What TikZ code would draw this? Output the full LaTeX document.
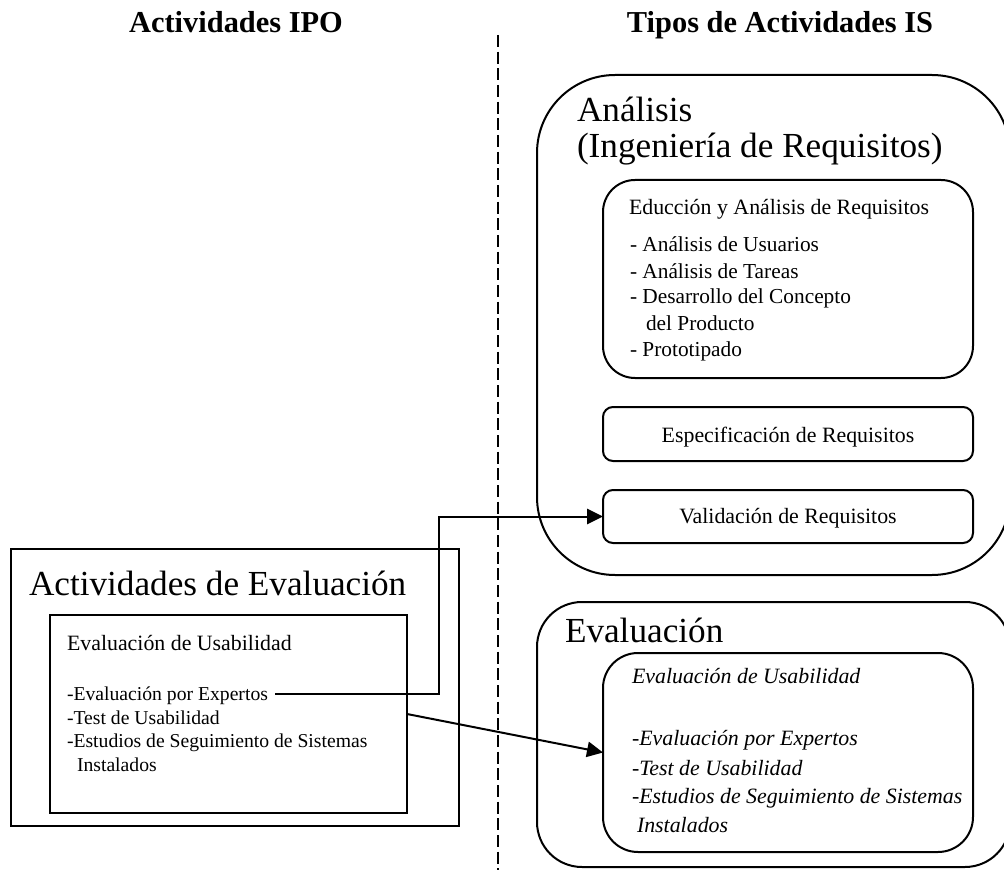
\documentclass[tikz,border=0pt]{standalone}
\usepackage{fontspec}
\setmainfont{Liberation Serif}
\usetikzlibrary{arrows.meta}
\newcommand\setfs[2]{\fontsize{#1}{#2}\selectfont}
\begin{document}
\begin{tikzpicture}[x=0.75pt,y=-0.75pt,
  sqbox/.style={draw, line width=1.5pt, inner sep=0pt, outer sep=0pt},
  rbox/.style={draw, line width=1.5pt, inner sep=0pt, outer sep=0pt, rounded corners=#1},
  lbl/.style={anchor=base west, inner sep=0pt, outer sep=0pt},
  ctr/.style={anchor=base, inner sep=0pt, outer sep=0pt},
  bigfont/.style={font=\setfs{26.4pt}{32pt}},
  midfont/.style={font=\setfs{16.4pt}{20pt}},
  lstfont/.style={font=\setfs{16pt}{20pt}},
  smlfont/.style={font=\setfs{14.75pt}{18pt}},
  itfont/.style={font=\setfs{16.4pt}{20pt}\itshape},
  arr/.style={line width=1.5pt, -{Triangle[length=12pt,width=11.5pt]}},
  divider/.style={line width=1.1pt, dash pattern=on 9pt off 3.5pt}
]
\useasboundingbox (0,0) rectangle (1004,870);

% titles
\node[ctr, font=\setfs{22.8pt}{27pt}\bfseries] (t1) at (236,33) {Actividades IPO};
\node[ctr, font=\setfs{22.8pt}{27pt}\bfseries] (t2) at (780,33) {Tipos de Actividades IS};

% divider
\coordinate (dtop) at (498,35);
\coordinate (dbot) at (498,872);
\draw[divider] (dtop) -- (dbot);

% Analisis block
\node[rbox=58.5pt, minimum width=354.75pt, minimum height=375pt] (anal) at (773.5,325) {};
\node[lbl, bigfont] (analt1) at (577,122) {Análisis};
\node[lbl, bigfont] (analt2) at (577,158) {(Ingeniería de Requisitos)};

\node[rbox=24pt, minimum width=277.5pt, minimum height=148.5pt] (educ) at (788,279) {};
\node[lbl, midfont] (educt) at (629,215) {Educción y Análisis de Requisitos};
\node[lbl, lstfont] (e1) at (630,252) {- Análisis de Usuarios};
\node[lbl, lstfont] (e2) at (630,278) {- Análisis de Tareas};
\node[lbl, lstfont] (e3) at (630,304) {- Desarrollo del Concepto};
\node[lbl, lstfont] (e4) at (646,330) {del Producto};
\node[lbl, lstfont] (e5) at (630,356) {- Prototipado};

\node[rbox=7.5pt, minimum width=277.5pt, minimum height=40.5pt] (espec) at (788,434) {};
\node[ctr, midfont] (espect) at (788,442) {Especificación de Requisitos};

\node[rbox=7.5pt, minimum width=277.5pt, minimum height=39.75pt] (val) at (788,516.5) {};
\node[ctr, midfont] (valt) at (788,523) {Validación de Requisitos};

% Evaluacion block (right)
\node[rbox=33.75pt, minimum width=354.75pt, minimum height=198.75pt] (evalr) at (773.5,734.5) {};
\node[lbl, bigfont] (evalrt) at (565,642) {Evaluación};
\node[rbox=26.25pt, minimum width=277.5pt, minimum height=149.25pt] (ital) at (788,752.5) {};
\node[lbl, itfont] (i0) at (632,683) {Evaluación de Usabilidad};
\node[lbl, itfont] (i1) at (632,745) {-Evaluación por Expertos};
\node[lbl, itfont] (i2) at (632,775) {-Test de Usabilidad};
\node[lbl, itfont] (i3) at (632,803) {-Estudios de Seguimiento de Sistemas};
\node[lbl, itfont] (i4) at (637,832) {Instalados};

% left block
\node[sqbox, minimum width=336pt, minimum height=207.75pt] (outl) at (235,687.5) {};
\node[lbl, bigfont] (outlt) at (29,595) {Actividades de Evaluación};
\node[sqbox, minimum width=267.75pt, minimum height=148.5pt] (usab) at (228.5,714) {};
\node[lbl, midfont] (usabt) at (67,650) {Evaluación de Usabilidad};
\node[lbl, smlfont] (lexp) at (67,700) {-Evaluación por Expertos};
\node[lbl, smlfont] (ltest) at (67,724) {-Test de Usabilidad};
\node[lbl, smlfont] (lest) at (67,747) {-Estudios de Seguimiento de Sistemas};
\node[lbl, smlfont] (linst) at (77,771) {Instalados};

% connectors
\coordinate (jx) at (439,0);
\draw[arr] ([xshift=5.5pt,yshift=1pt]lexp.east) -| (jx |- val.west) -- (val.west);
\draw[arr] (usab.east) -- (ital.west);
\end{tikzpicture}
\end{document}
